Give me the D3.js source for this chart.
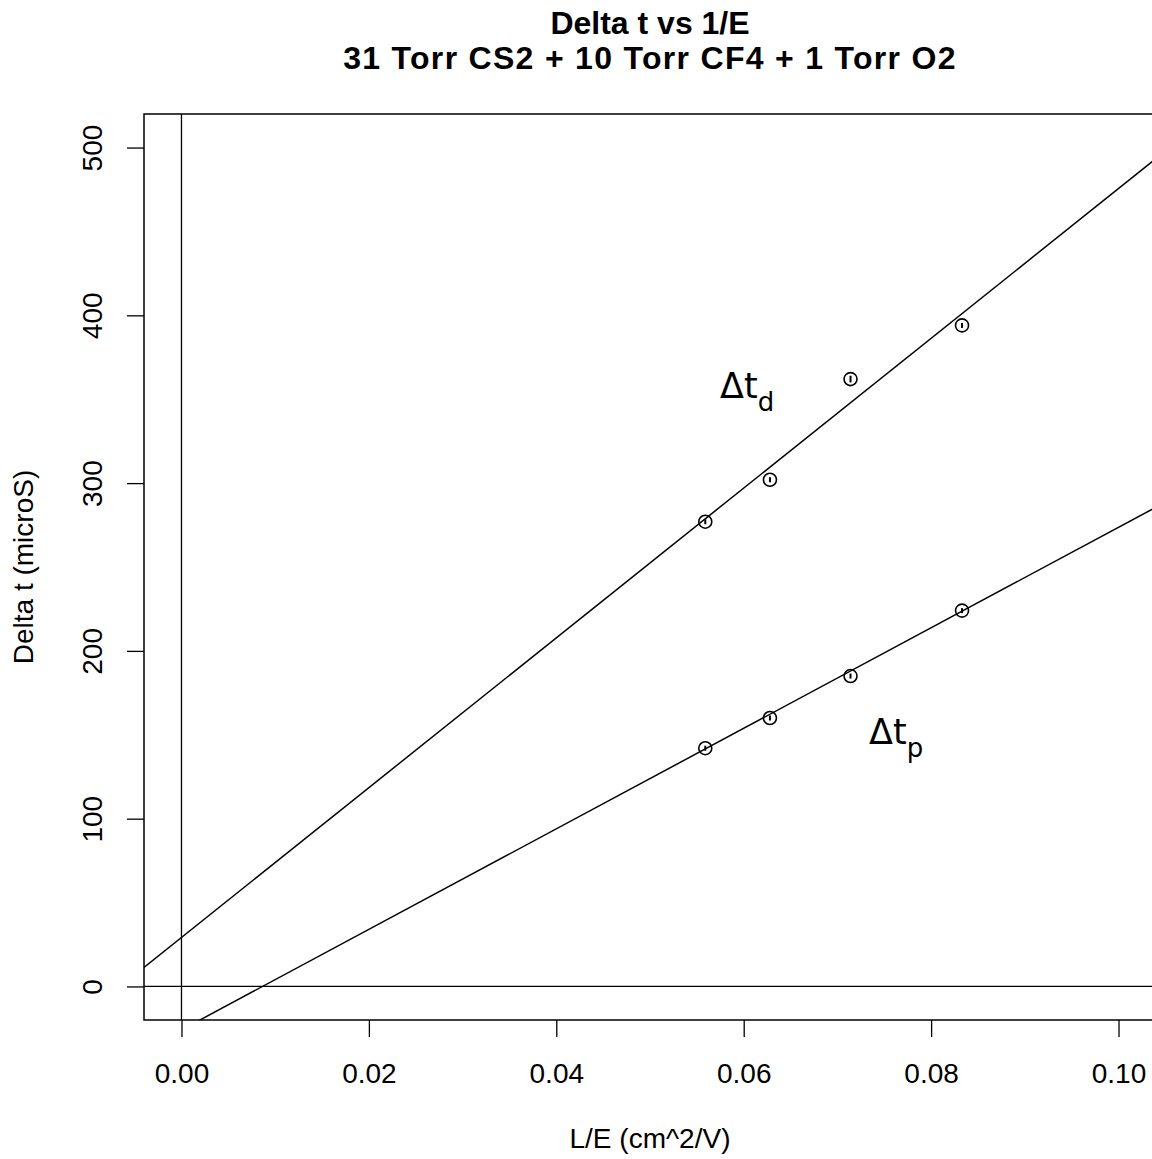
<!DOCTYPE html>
<html>
<head>
<meta charset="utf-8">
<script src="https://cdn.jsdelivr.net/npm/d3@7"></script>
<style>
  body { margin: 0; background: #fff; }
  text { font-family: "Liberation Sans", Arial, Helvetica, sans-serif; }
</style>
</head>
<body>
<div id="chart"></div>
<script>
"use strict";

// measured points (L/E, delta t)
const xVals = [0.0559, 0.0628, 0.0714, 0.0833];
const tDrift = [277, 302, 362, 394];
const tPeak = [142, 160, 185, 224];
const errDrift = [1.5, 1.5, 2, 1.5];
const errPeak = [1.5, 1.5, 1.5, 1.5];

// fitted lines: [intercept, slope]
const fitDrift = [29.2, 4464];
const fitPeak = [-25.9, 2996];

const xTicks = [0, 0.02, 0.04, 0.06, 0.08, 0.10];
const yTicks = [0, 100, 200, 300, 400, 500];

const msm = {
    width: 1152,
    height: 1159,
    left: 144,
    right: 1156,
    top: 114,
    bottom: 1020
}

let svg = d3.select("#chart")
    .append("svg")
    .attr("width", msm.width)
    .attr("height", msm.height);

let xScale = d3.scaleLinear()
    .domain([-0.004, 0.104])
    .range([msm.left, msm.right]);

let yScale = d3.scaleLinear()
    .domain([-20, 520])
    .range([msm.bottom, msm.top]);

svg.append("clipPath")
    .attr("id", "plotclip")
    .append("rect")
    .attr("x", msm.left)
    .attr("y", msm.top)
    .attr("width", msm.right - msm.left)
    .attr("height", msm.bottom - msm.top);

// axes
let xAxis = d3.axisBottom(xScale)
    .tickValues(xTicks)
    .tickSize(17)
    .tickPadding(0)
    .tickFormat(d3.format(".2f"));
let gx = svg.append("g")
    .attr("transform", "translate(0," + msm.bottom + ")")
    .call(xAxis);
gx.select(".domain").remove();
gx.selectAll("line").attr("stroke", "#000").attr("stroke-width", 1.3);
gx.selectAll("text")
    .style("font-size", "28px")
    .attr("fill", "#000")
    .attr("y", 63)
    .attr("dy", 0);

let yAxis = d3.axisLeft(yScale)
    .tickValues(yTicks)
    .tickSize(17)
    .tickPadding(0);
let gy = svg.append("g")
    .attr("transform", "translate(" + msm.left + ",0)")
    .call(yAxis);
gy.select(".domain").remove();
gy.selectAll("line").attr("stroke", "#000").attr("stroke-width", 1.3);
gy.selectAll("text")
    .style("font-size", "28px")
    .attr("fill", "#000")
    .attr("x", 0)
    .attr("dy", 0)
    .attr("text-anchor", "middle")
    .attr("transform", "translate(-42,0) rotate(-90)");

let plot = svg.append("g").attr("clip-path", "url(#plotclip)");

// reference lines at 0
plot.append("line")
    .attr("x1", msm.left).attr("x2", msm.right)
    .attr("y1", yScale(0)).attr("y2", yScale(0))
    .attr("stroke", "#000").attr("stroke-width", 1.3);
plot.append("line")
    .attr("x1", xScale(0)).attr("x2", xScale(0))
    .attr("y1", msm.top).attr("y2", msm.bottom)
    .attr("stroke", "#000").attr("stroke-width", 1.3);

// fit lines
for (let fit of [fitDrift, fitPeak]) {
    let xd = xScale.domain();
    plot.append("line")
        .attr("x1", xScale(xd[0])).attr("y1", yScale(fit[0] + fit[1] * xd[0]))
        .attr("x2", xScale(xd[1])).attr("y2", yScale(fit[0] + fit[1] * xd[1]))
        .attr("stroke", "#000").attr("stroke-width", 1.5);
}

// points
function drawPoints(ys, errs) {
    let pts = xVals.map((x, i) => ({ x: x, y: ys[i], e: errs[i] }));
    plot.selectAll(null)
        .data(pts)
        .enter()
        .append("circle")
        .attr("cx", (d) => xScale(d.x))
        .attr("cy", (d) => yScale(d.y))
        .attr("r", 6.5)
        .attr("fill", "none")
        .attr("stroke", "#000")
        .attr("stroke-width", 1.6);
    plot.selectAll(null)
        .data(pts)
        .enter()
        .append("line")
        .attr("x1", (d) => xScale(d.x))
        .attr("x2", (d) => xScale(d.x))
        .attr("y1", (d) => yScale(d.y - d.e))
        .attr("y2", (d) => yScale(d.y + d.e))
        .attr("stroke", "#000")
        .attr("stroke-width", 2);
}
drawPoints(tDrift, errDrift);
drawPoints(tPeak, errPeak);

// frame
svg.append("rect")
    .attr("x", msm.left)
    .attr("y", msm.top)
    .attr("width", msm.right - msm.left)
    .attr("height", msm.bottom - msm.top)
    .attr("fill", "none")
    .attr("stroke", "#000")
    .attr("stroke-width", 1.5);

// series labels
function deltaLabel(x, y, sub) {
    let t = svg.append("text")
        .attr("x", x)
        .attr("y", y)
        .style("font-family", "'DejaVu Sans', 'Open Sans', sans-serif")
        .style("font-size", "35px")
        .attr("fill", "#000");
    t.append("tspan").text("\u0394t");
    t.append("tspan")
        .attr("dy", 13)
        .style("font-size", "26px")
        .text(sub);
}
deltaLabel(720, 398, "d");
deltaLabel(869, 744, "p");

// titles
svg.append("text")
    .attr("x", 650)
    .attr("y", 34)
    .attr("text-anchor", "middle")
    .style("font-size", "32px")
    .style("font-weight", "bold")
    .text("Delta t vs 1/E");
svg.append("text")
    .attr("x", 650)
    .attr("y", 69)
    .attr("text-anchor", "middle")
    .style("font-size", "32px")
    .style("font-weight", "bold")
    .style("letter-spacing", "1.3px")
    .text("31 Torr CS2 + 10 Torr CF4 + 1 Torr O2");

svg.append("text")
    .attr("x", 650)
    .attr("y", 1148)
    .attr("text-anchor", "middle")
    .style("font-size", "28px")
    .text("L/E (cm^2/V)");

svg.append("text")
    .attr("transform", "translate(33," + ((msm.top + msm.bottom) / 2) + ") rotate(-90)")
    .attr("text-anchor", "middle")
    .style("font-size", "28px")
    .text("Delta t (microS)");
</script>
</body>
</html>
